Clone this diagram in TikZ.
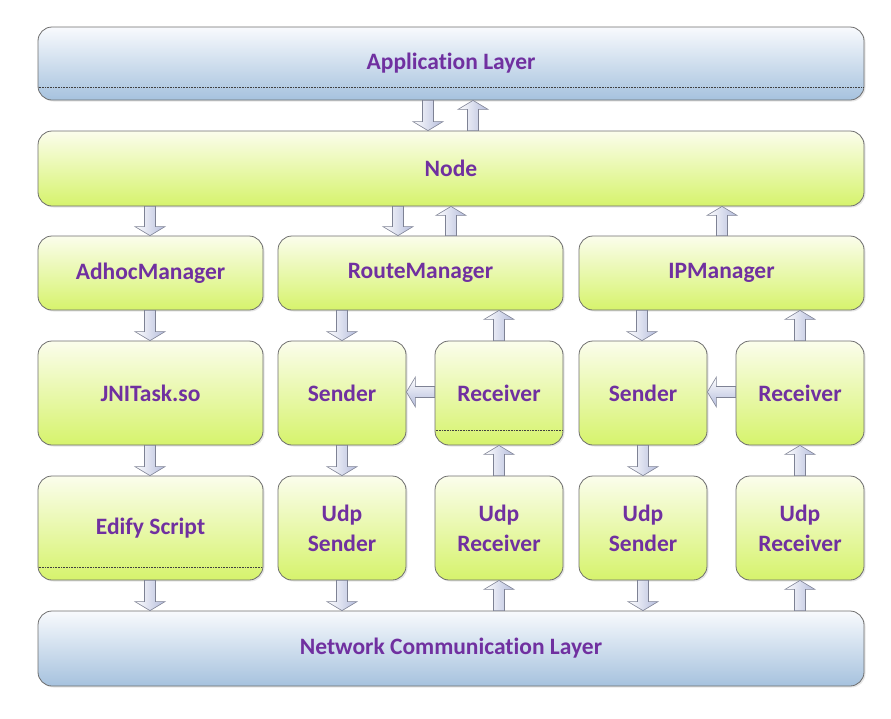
\documentclass[tikz,border=0pt]{standalone}
\usepackage{fontspec}
\setmainfont[Ligatures=NoCommon]{Carlito}
\usetikzlibrary{calc,shadows}
\definecolor{txt}{HTML}{7030A0}
\definecolor{gtop}{HTML}{FBFDEC}
\definecolor{gbot}{HTML}{D6F36C}
\definecolor{btop}{HTML}{F8FAFD}
\definecolor{bbot}{HTML}{A6C2DE}
\definecolor{boxline}{HTML}{6E6E6E}
\definecolor{arrline}{HTML}{7E8294}
\definecolor{arrblue}{HTML}{B4BCDC}
\newcommand\darr[3]{\shadedraw[arr] let \p1=(#2.south), \p2=(#3.north) in
  (#1pt-5.5pt,\y1) -- (#1pt-5.5pt,\y2+9pt) -- (#1pt-15pt,\y2+9pt) -- (#1pt,\y2)
  -- (#1pt+15pt,\y2+9pt) -- (#1pt+5.5pt,\y2+9pt) -- (#1pt+5.5pt,\y1) -- cycle;}
\newcommand\uarr[3]{\shadedraw[arr] let \p1=(#2.north), \p2=(#3.south) in
  (#1pt-5.5pt,\y1) -- (#1pt-5.5pt,\y2-9pt) -- (#1pt-15pt,\y2-9pt) -- (#1pt,\y2)
  -- (#1pt+15pt,\y2-9pt) -- (#1pt+5.5pt,\y2-9pt) -- (#1pt+5.5pt,\y1) -- cycle;}
\newcommand\larr[3]{\shadedraw[arr,top color=white,bottom color=arrblue] let \p1=(#2.west), \p2=(#3.east) in
  (\x1,-#1pt+5.5pt) -- (\x2+9pt,-#1pt+5.5pt) -- (\x2+9pt,-#1pt+15pt) -- (\x2,-#1pt)
  -- (\x2+9pt,-#1pt-15pt) -- (\x2+9pt,-#1pt-5.5pt) -- (\x1,-#1pt-5.5pt) -- cycle;}
\begin{document}
\begin{tikzpicture}[x=1pt,y=-1pt,
  box/.style={draw=boxline, line width=0.8pt, rounded corners=14pt,
    top color=gtop, bottom color=gbot, text=txt, align=center, inner sep=0pt,
    font=\fontsize{23.5}{30}\selectfont\bfseries,
    drop shadow={opacity=0.2, shadow xshift=1.5pt, shadow yshift=-1.5pt}},
  layer/.style={box, top color=btop, bottom color=bbot},
  arr/.style={draw=arrline, line width=0.6pt, left color=white, right color=arrblue},
  dotline/.style={draw=black!75, line width=0.45pt, dash pattern=on 0.8pt off 0.8pt}]
\useasboundingbox (0,0) rectangle (891,718);
% layers
\node[layer, minimum width=826pt, minimum height=73pt] (app) at (451,63.5) {Application Layer};
\node[box, minimum width=826pt, minimum height=75pt] (node) at (451,168.5) {Node};
% managers
\node[box, minimum width=225pt, minimum height=74pt] (adhoc) at (150.5,273) {AdhocManager};
\node[box, minimum width=285pt, minimum height=74pt] (route) at (420.5,273) {RouteManager};
\node[box, minimum width=285pt, minimum height=74pt] (ip) at (721.5,273) {IPManager};
% row 3
\node[box, minimum width=225pt, minimum height=104pt] (jni) at (150.5,393) {JNITask.so};
\node[box, minimum width=128pt, minimum height=104pt] (s1) at (342,393) {Sender};
\node[box, minimum width=128pt, minimum height=104pt] (r1) at (499,393) {Receiver};
\node[box, minimum width=128pt, minimum height=104pt] (s2) at (643,393) {Sender};
\node[box, minimum width=128pt, minimum height=104pt] (r2) at (800,393) {Receiver};
% row 4
\node[box, minimum width=225pt, minimum height=104pt] (edify) at (150.5,528) {Edify Script};
\node[box, minimum width=128pt, minimum height=104pt] (us1) at (342,528) {Udp\\Sender};
\node[box, minimum width=128pt, minimum height=104pt] (ur1) at (499,528) {Udp\\Receiver};
\node[box, minimum width=128pt, minimum height=104pt] (us2) at (643,528) {Udp\\Sender};
\node[box, minimum width=128pt, minimum height=104pt] (ur2) at (800,528) {Udp\\Receiver};
% network
\node[layer, minimum width=826pt, minimum height=75pt] (net) at (451,648.5) {Network Communication Layer};
% dotted lines
\draw[dotline] ([xshift=1pt,yshift=13pt]app.south west) -- ([xshift=-1pt,yshift=13pt]app.south east);
\draw[dotline] ([xshift=1pt,yshift=15pt]r1.south west) -- ([xshift=-1pt,yshift=15pt]r1.south east);
\draw[dotline] ([xshift=1pt,yshift=13pt]edify.south west) -- ([xshift=-1pt,yshift=13pt]edify.south east);
% arrows
\darr{428}{app}{node}
\uarr{473}{node}{app}
\darr{150}{node}{adhoc}
\darr{398}{node}{route}
\uarr{451}{route}{node}
\uarr{722}{ip}{node}
\darr{150}{adhoc}{jni}
\darr{342}{route}{s1}
\uarr{499}{r1}{route}
\darr{642}{ip}{s2}
\uarr{800}{r2}{ip}
\larr{392}{r1}{s1}
\larr{392}{r2}{s2}
\darr{150}{jni}{edify}
\darr{342}{s1}{us1}
\uarr{499}{ur1}{r1}
\darr{643}{s2}{us2}
\uarr{800}{ur2}{r2}
\darr{150}{edify}{net}
\darr{342}{us1}{net}
\uarr{499}{net}{ur1}
\darr{643}{us2}{net}
\uarr{800}{net}{ur2}
\end{tikzpicture}
\end{document}
